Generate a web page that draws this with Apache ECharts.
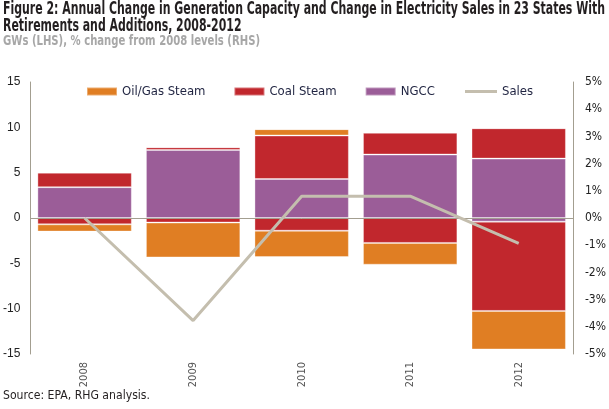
<!DOCTYPE html>
<html>
<head>
<meta charset="utf-8">
<script src="https://cdn.jsdelivr.net/npm/echarts@6/dist/echarts.min.js"></script>
<style>
html,body{margin:0;padding:0;background:#fff;}
#c{width:609px;height:409px;}
</style>
</head>
<body>
<div id="c"></div>
<script>
var categories = ['2008', '2009', '2010', '2011', '2012'];
var ngccAdd = [3.4, 7.5, 4.3, 7.0, 6.55];
var ngccRet = [0, 0, 0, 0, -0.4];
var coalAdd = [1.6, 0.3, 4.8, 2.4, 3.35];
var coalRet = [-0.7, -0.5, -1.4, -2.75, -9.85];
var oilAdd = [0.05, 0.05, 0.7, 0.1, 0];
var oilRet = [-0.8, -3.85, -2.9, -2.4, -4.25];
var sales = [0, -3.77, 0.8, 0.8, -0.93];

var titleLine1 = 'Figure 2: Annual Change in Generation Capacity and Change in Electricity Sales in 23 States With';
var titleLine2 = 'Retirements and Additions, 2008-2012';
var subtitle = 'GWs (LHS), % change from 2008 levels (RHS)';
var source = 'Source: EPA, RHG analysis.';

var FONT = '"Liberation Sans Narrow", "DejaVu Sans Condensed", "Roboto Condensed", sans-serif';
var ORANGE = '#E07E23', RED = '#C1272D', PURPLE = '#9B5D98', TAN = '#C4BEAE', AXIS = '#A39E90';

function measure(font, text) {
  var ctx = document.createElement('canvas').getContext('2d');
  ctx.font = font;
  return ctx.measureText(text).width;
}
var titleFont = 'bold 17px ' + FONT;
var subFont = 'bold 13.5px ' + FONT;
var srcFont = '12.5px ' + FONT;
var sTitle = 602 / measure(titleFont, titleLine1);
var sSub = 257 / measure(subFont, subtitle);
var sSrc = 147 / measure(srcFont, source);

function bar(name, data, color) {
  return {
    name: name, type: 'bar', stack: 'cap', data: data, barCategoryGap: '13%',
    itemStyle: { color: color, borderColor: 'rgba(255,255,255,0.35)', borderWidth: 1 },
    emphasis: { disabled: true }
  };
}

var chart = echarts.init(document.getElementById('c'), null, { renderer: 'canvas' });
chart.setOption({
  animation: false,
  graphic: [
    { type: 'text', x: 3, y: 10, scaleX: sTitle, silent: true,
      style: { text: titleLine1, font: titleFont, fill: '#231F20', verticalAlign: 'middle' } },
    { type: 'text', x: 3, y: 26.5, scaleX: sTitle, silent: true,
      style: { text: titleLine2, font: titleFont, fill: '#231F20', verticalAlign: 'middle' } },
    { type: 'text', x: 3, y: 41, scaleX: sSub, silent: true,
      style: { text: subtitle, font: subFont, fill: '#A7A7A7', verticalAlign: 'middle' } },
    { type: 'text', x: 3, y: 396, scaleX: sSrc, silent: true,
      style: { text: source, font: srcFont, fill: '#231F20', verticalAlign: 'middle' } }
  ],
  legend: [
    { left: 81, top: 80, itemWidth: 30, itemHeight: 8, itemGap: 28,
      textStyle: { fontFamily: FONT, fontSize: 13, color: '#1F2340' },
      data: [
        { name: 'Oil/Gas Steam', icon: 'rect' },
        { name: 'Coal Steam', icon: 'rect' },
        { name: 'NGCC', icon: 'rect' }
      ] },
    { left: 460, top: 80, itemWidth: 32, itemHeight: 3,
      textStyle: { fontFamily: FONT, fontSize: 13, color: '#1F2340' },
      data: [{ name: 'Sales', icon: 'rect' }] }
  ],
  grid: { left: 30, right: 36, top: 82, bottom: 55 },
  xAxis: {
    type: 'category', data: categories,
    axisLine: { show: false }, axisTick: { show: false },
    axisLabel: { rotate: 90, margin: 8, fontFamily: FONT, fontSize: 11, color: '#555' }
  },
  yAxis: [
    { type: 'value', min: -15, max: 15, interval: 5, position: 'left',
      axisLine: { show: true, lineStyle: { color: AXIS, width: 1 } },
      axisTick: { show: false }, splitLine: { show: false },
      axisLabel: { margin: 10, fontFamily: '"Liberation Sans", Arial, sans-serif', fontSize: 12, color: '#222' } },
    { type: 'value', min: -5, max: 5, interval: 1, position: 'right',
      axisLine: { show: true, lineStyle: { color: AXIS, width: 1 } },
      axisTick: { show: false }, splitLine: { show: false },
      axisLabel: { margin: 12, formatter: '{value}%', fontFamily: FONT, fontSize: 12, color: '#222' } }
  ],
  series: [
    bar('NGCC', ngccAdd, PURPLE),
    bar('Coal Steam', coalAdd, RED),
    bar('Oil/Gas Steam', oilAdd, ORANGE),
    bar('NGCC', ngccRet, PURPLE),
    bar('Coal Steam', coalRet, RED),
    bar('Oil/Gas Steam', oilRet, ORANGE),
    { name: 'Sales', type: 'line', yAxisIndex: 1, data: sales, symbol: 'none', z: 5,
      lineStyle: { color: TAN, width: 3 }, itemStyle: { color: TAN },
      markLine: { silent: true, symbol: 'none', label: { show: false },
        lineStyle: { color: AXIS, width: 1, type: 'solid' }, data: [{ yAxis: 0 }] } }
  ]
});
</script>
</body>
</html>
